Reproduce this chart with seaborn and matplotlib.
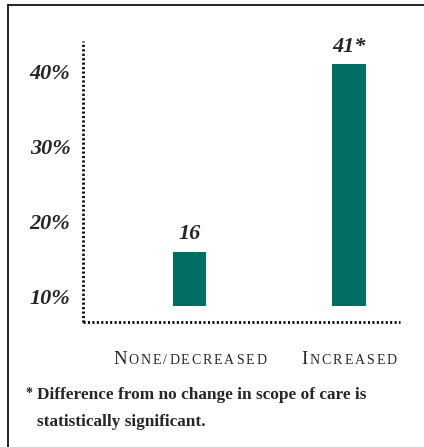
import matplotlib
matplotlib.use("Agg")
import matplotlib.pyplot as plt
import matplotlib.transforms as mtransforms
from matplotlib.lines import Line2D
import seaborn as sns
import pandas as pd

# ---- data ----
categories = ["None/decreased", "Increased"]
values = [16, 41]
value_labels = ["16", "41*"]
yticks = [10, 20, 30, 40]
ytick_labels = ["10%", "20%", "30%", "40%"]
bar_base = 8.8
footnote_mark = "*"
footnote_lines = ["Difference from no change in scope of care is",
                  "statistically significant."]

TEAL = "#006f62"
SERIF = "Liberation Serif"
W, H = 424, 447

sns.set_style("white")
plt.rcParams["font.family"] = [SERIF, "DejaVu Serif"]

fig = plt.figure(figsize=(W / 100, H / 100), dpi=100)
ax = fig.add_axes([83 / W, 1 - 322 / H, (400 - 83) / W, (322 - 41) / H])

df = pd.DataFrame({"cat": categories, "val": values})
sns.barplot(data=df, x="cat", y="val", color=TEAL, width=0.21, ax=ax,
            saturation=1, edgecolor="none", linewidth=0)

# bars rise from a floating base above the axis line
for p, v in zip(ax.patches, values):
    p.set_y(bar_base)
    p.set_height(v - bar_base)
    p.set_facecolor(TEAL)

ax.set_xlim(-0.67, 1.32)
ax.set_ylim(6.6, 44.1)

for sp in ["top", "right"]:
    ax.spines[sp].set_visible(False)
for sp in ["left", "bottom"]:
    ax.spines[sp].set_linestyle((0, (0.75, 0.85)))
    ax.spines[sp].set_linewidth(2.0)
    ax.spines[sp].set_color("black")
    ax.spines[sp].set_capstyle("butt")

ax.set_yticks(yticks)
ax.set_yticklabels(ytick_labels, fontsize=16, fontweight="bold",
                   fontstyle="italic", family=SERIF)
ax.tick_params(axis="y", length=0, pad=9)
ax.set_xticks([])
ax.set_xlabel("")
ax.set_ylabel("")

# value labels
for i, (v, lab) in enumerate(zip(values, value_labels)):
    ax.annotate(lab, (i, v), xytext=(0, 9), textcoords="offset points",
                ha="center", va="baseline", fontsize=16, fontweight="bold",
                fontstyle="italic", family=SERIF)

# small-caps category labels (drawn letter by letter with tracking)
renderer = fig.canvas.get_renderer()
BIG, SMALL = 13.5, 10
TRACK = 1.9  # pixels between letters


def measure(s, size):
    t = fig.text(0, 0, s, fontsize=size, family=SERIF)
    w = t.get_window_extent(renderer).width
    t.remove()
    return w


base_tr = mtransforms.blended_transform_factory(ax.transData, fig.transFigure)
for i, cat in enumerate(categories):
    glyphs = [(ch.upper(), BIG if ch.isupper() else SMALL) for ch in cat]
    widths = [measure(c, s) for c, s in glyphs]
    total = sum(widths) + TRACK * (len(glyphs) - 1)
    x0 = -total / 2
    for (c, s), w in zip(glyphs, widths):
        tr = mtransforms.offset_copy(base_tr, fig=fig, x=x0, y=0, units="dots")
        ax.text(i, 1 - 364 / H, c, transform=tr, ha="left", va="baseline",
                fontsize=s, family=SERIF, fontweight="medium")
        x0 += w + TRACK

# footnote
fig.text(25 / W, 1 - 397 / H, footnote_mark, fontsize=10, fontweight="bold",
         family=SERIF, va="baseline")
for k, line in enumerate(footnote_lines):
    fig.text(37 / W, 1 - (399 + 27 * k) / H, line, fontsize=12.4,
             fontweight="bold", family=SERIF, va="baseline")

# frame (top and left edges)
fig.add_artist(Line2D([8 / W, 8 / W], [0, 1 - 5 / H], transform=fig.transFigure,
                      color="black", lw=1.2))
fig.add_artist(Line2D([8 / W, 1], [1 - 5 / H, 1 - 5 / H], transform=fig.transFigure,
                      color="black", lw=1.2))

fig.savefig("out.png", dpi=100)
